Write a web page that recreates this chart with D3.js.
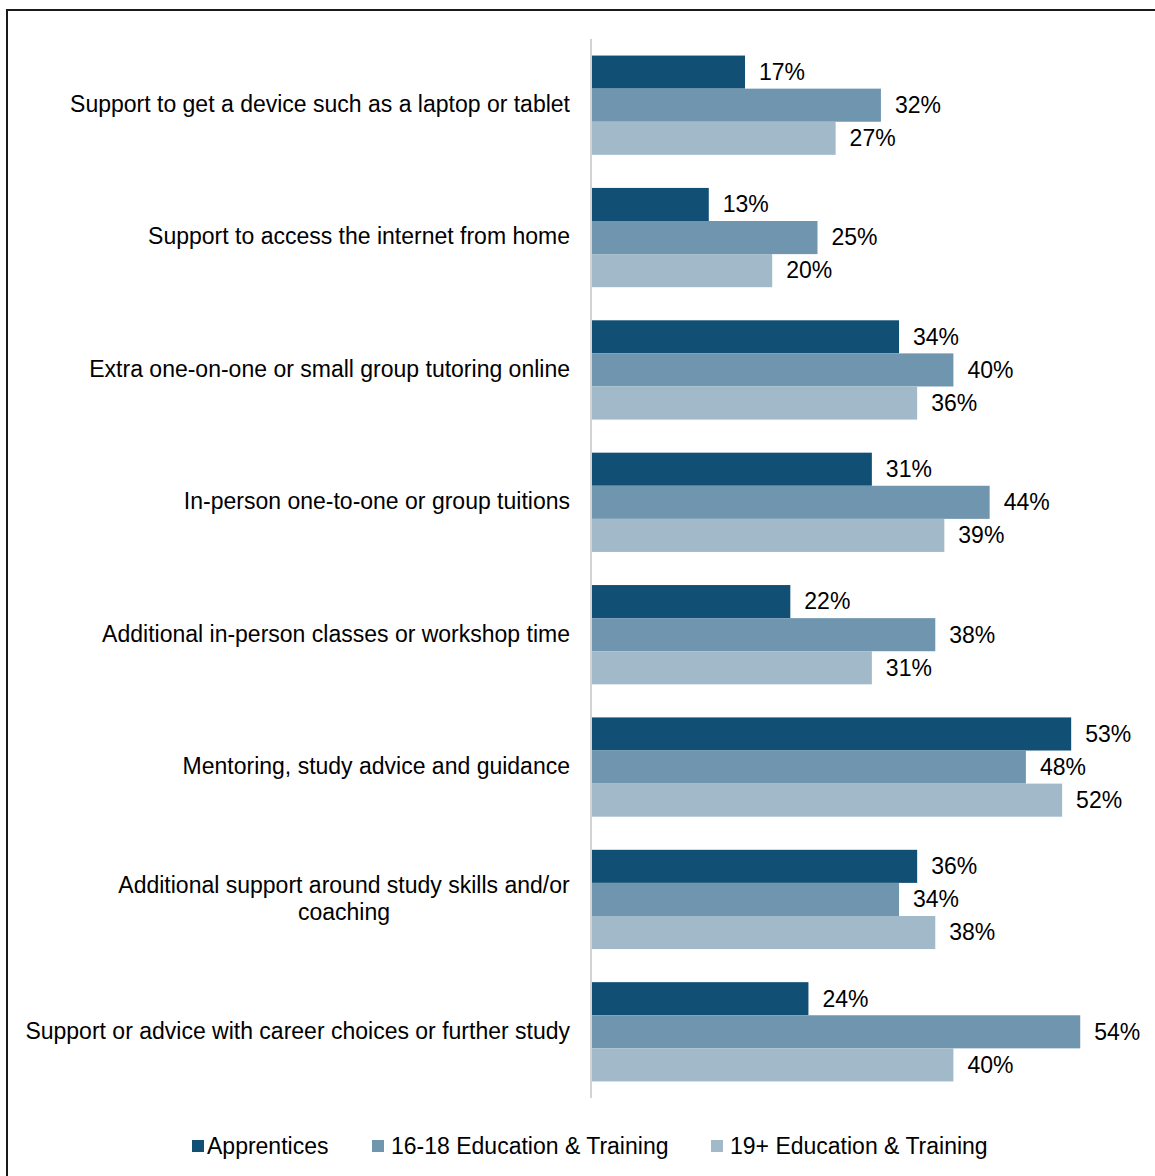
<!DOCTYPE html>
<html>
<head>
<meta charset="utf-8">
<script src="https://cdn.jsdelivr.net/npm/d3@7"></script>
<style>
  html, body { margin: 0; padding: 0; background: #fff; }
  svg { display: block; }
  text { font-family: "Liberation Sans", Arial, sans-serif; fill: #000; }
</style>
</head>
<body>
<svg id="chart" width="1155" height="1176"></svg>
<script>
// Survey categories (line breaks marked with \n)
const categories = [
  "Support to get a device such as a laptop or tablet",
  "Support to access the internet from home",
  "Extra one-on-one or small group tutoring online",
  "In-person one-to-one or group tuitions",
  "Additional in-person classes or workshop time",
  "Mentoring, study advice and guidance",
  "Additional support around study skills and/or\ncoaching",
  "Support or advice with career choices or further study"
];

const seriesNames = ["Apprentices", "16-18 Education & Training", "19+ Education & Training"];

const apprentices   = [17, 13, 34, 31, 22, 53, 36, 24];
const edu1618       = [32, 25, 40, 44, 38, 48, 34, 54];
const edu19plus     = [27, 20, 36, 39, 31, 52, 38, 40];

const seriesColors = ["#124f75", "#6f95af", "#a2b9c9"];

const seriesValues = [apprentices, edu1618, edu19plus];

const FONT = 23;

const svg = d3.select("#chart");

// Outer frame
svg.append("rect")
  .attr("x", 7).attr("y", 10)
  .attr("width", 1160).attr("height", 1180)
  .attr("fill", "none")
  .attr("stroke", "#1a1a1a")
  .attr("stroke-width", 2);

const axisX = 591;
const plotTop = 39, plotBottom = 1098;

const x = d3.scaleLinear().domain([0, 60]).range([axisX, axisX + 60 * 9.06]);

const y0 = d3.scaleBand()
  .domain(d3.range(categories.length))
  .range([plotTop, plotBottom])
  .paddingInner(0.25)
  .paddingOuter(0.125);

const y1 = d3.scaleBand()
  .domain(d3.range(seriesNames.length))
  .range([0, y0.bandwidth()]);

const groups = svg.append("g").selectAll("g")
  .data(categories)
  .join("g")
  .attr("transform", (d, i) => `translate(0,${y0(i)})`);

groups.each(function (cat, ci) {
  const g = d3.select(this);
  const rows = seriesValues.map((vals, si) => ({ si, v: vals[ci] }));
  g.selectAll("rect")
    .data(rows)
    .join("rect")
    .attr("x", x(0))
    .attr("y", d => y1(d.si))
    .attr("width", d => x(d.v) - x(0))
    .attr("height", y1.bandwidth())
    .attr("fill", d => seriesColors[d.si]);
  g.selectAll("text.val")
    .data(rows)
    .join("text")
    .attr("class", "val")
    .attr("x", d => x(d.v) + 14)
    .attr("y", d => y1(d.si) + y1.bandwidth() / 2)
    .attr("dy", "0.34em")
    .attr("font-size", FONT)
    .text(d => d.v + "%");
});

// Category labels
const labelCenterX = 344;
categories.forEach((cat, ci) => {
  const lines = cat.split("\n");
  const cy = y0(ci) + y0.bandwidth() / 2 - 1;
  const lineH = 27;
  const t = svg.append("text")
    .attr("font-size", FONT)
    .attr("text-anchor", lines.length > 1 ? "middle" : "end");
  lines.forEach((ln, li) => {
    t.append("tspan")
      .attr("x", lines.length > 1 ? labelCenterX : 570)
      .attr("y", cy + (li - (lines.length - 1) / 2) * lineH)
      .attr("dy", "0.34em")
      .text(ln);
  });
});

// Vertical category axis line
svg.append("line")
  .attr("x1", axisX).attr("x2", axisX)
  .attr("y1", plotTop).attr("y2", plotBottom)
  .attr("stroke", "#d3d3d3")
  .attr("stroke-width", 2);

// Legend
const legendItems = [
  { sq: 192, tx: 207 },
  { sq: 372, tx: 391 },
  { sq: 711, tx: 730 }
];
const legendY = 1146;
const legend = svg.append("g");
seriesNames.forEach((name, i) => {
  legend.append("rect")
    .attr("x", legendItems[i].sq)
    .attr("y", legendY - 6)
    .attr("width", 12).attr("height", 12)
    .attr("fill", seriesColors[i]);
  legend.append("text")
    .attr("x", legendItems[i].tx)
    .attr("y", legendY)
    .attr("dy", "0.34em")
    .attr("font-size", FONT)
    .text(name);
});
</script>
</body>
</html>
